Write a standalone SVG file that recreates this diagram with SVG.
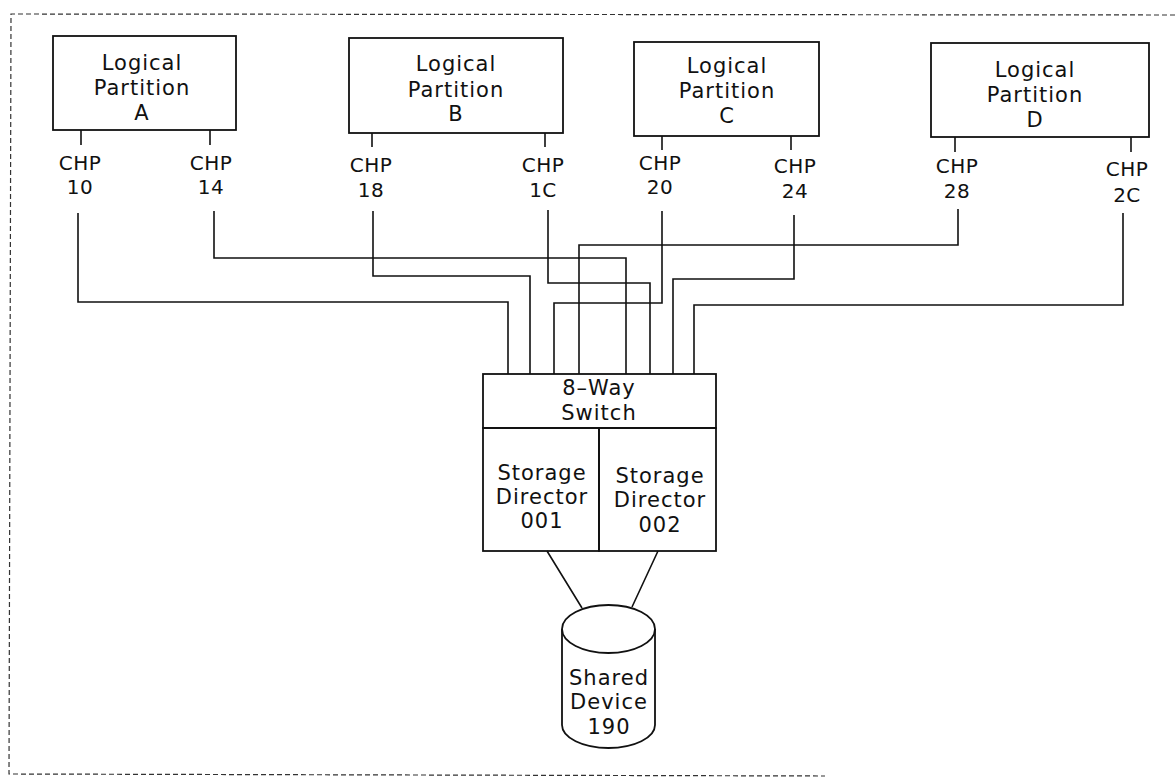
<svg xmlns="http://www.w3.org/2000/svg" width="1175" height="779" viewBox="0 0 1175 779">
<style>
.bg{fill:#fff}
.box{fill:none;stroke:#111;stroke-width:1.8}
.ln{fill:none;stroke:#111;stroke-width:1.6}
.frame{fill:none;stroke:#333;stroke-width:1.2;stroke-dasharray:5 3}
text{font-family:"DejaVu Sans","Liberation Sans",sans-serif;font-size:21px;fill:#111;text-anchor:middle;letter-spacing:1px}
.chp text{font-size:20px;letter-spacing:0.5px}
</style>
<rect class="bg" x="0" y="0" width="1175" height="779"/>
<path class="frame" d="M1175,15 L11,14 L9,774 L825,776"/>

<g id="partitionA">
<rect class="box" x="53" y="36" width="183" height="94"/>
<text x="142" y="70">Logical</text>
<text x="142" y="95">Partition</text>
<text x="142" y="120">A</text>
</g>
<g id="partitionB">
<rect class="box" x="349" y="38" width="214" height="95"/>
<text x="456" y="71">Logical</text>
<text x="456" y="97">Partition</text>
<text x="456" y="121">B</text>
</g>
<g id="partitionC">
<rect class="box" x="634" y="42" width="185" height="94"/>
<text x="727" y="73">Logical</text>
<text x="727" y="98">Partition</text>
<text x="727" y="123">C</text>
</g>
<g id="partitionD">
<rect class="box" x="931" y="43" width="218" height="94"/>
<text x="1035" y="77">Logical</text>
<text x="1035" y="102">Partition</text>
<text x="1035" y="127">D</text>
</g>

<g class="chp">
<g id="chp10"><text x="80" y="170">CHP</text><text x="80" y="194">10</text></g>
<g id="chp14"><text x="211" y="170">CHP</text><text x="211" y="194">14</text></g>
<g id="chp18"><text x="371" y="172">CHP</text><text x="371" y="197">18</text></g>
<g id="chp1C"><text x="543" y="172">CHP</text><text x="543" y="197">1C</text></g>
<g id="chp20"><text x="660" y="170">CHP</text><text x="660" y="194">20</text></g>
<g id="chp24"><text x="795" y="173">CHP</text><text x="795" y="198">24</text></g>
<g id="chp28"><text x="957" y="173">CHP</text><text x="957" y="198">28</text></g>
<g id="chp2C"><text x="1127" y="176">CHP</text><text x="1127" y="202">2C</text></g>
</g>

<g id="switch">
<rect class="box" x="483" y="374" width="233" height="54"/>
<text x="599" y="395">8–Way</text>
<text x="599" y="420">Switch</text>
</g>
<g id="director001">
<rect class="box" x="483" y="428" width="116" height="123"/>
<text x="542" y="480">Storage</text>
<text x="542" y="504">Director</text>
<text x="542" y="528">001</text>
</g>
<g id="director002">
<rect class="box" x="599" y="428" width="117" height="123"/>
<text x="660" y="483">Storage</text>
<text x="660" y="507">Director</text>
<text x="660" y="532">002</text>
</g>

<g id="device190">
<path class="box" d="M562,629 L562,725 A46.5,23 0 0 0 655,725 L655,629"/>
<ellipse class="box" cx="608.5" cy="629" rx="46.5" ry="24"/>
<text x="609" y="685">Shared</text>
<text x="609" y="709">Device</text>
<text x="609" y="734">190</text>
</g>

<g id="connectors">
<path class="ln" d="M81,130 V145 M210,130 V145 M372,133 V147 M545,133 V147 M662,136 V150 M791,136 V150 M955,137 V152 M1131,137 V152"/>
<path class="ln" d="M78,213 V302 H508 V374"/>
<path class="ln" d="M214,211 V258 H626 V374"/>
<path class="ln" d="M373,211 V276 H530 V374"/>
<path class="ln" d="M548,210 V283 H650 V374"/>
<path class="ln" d="M662,211 V303 H554 V374"/>
<path class="ln" d="M794,215 V279 H673 V374"/>
<path class="ln" d="M958,209 V245 H579 V374"/>
<path class="ln" d="M1123,213 V305 H694 V374"/>
<path class="ln" d="M547,551 L582,608 M658,551 L632,607"/>
</g>
</svg>
